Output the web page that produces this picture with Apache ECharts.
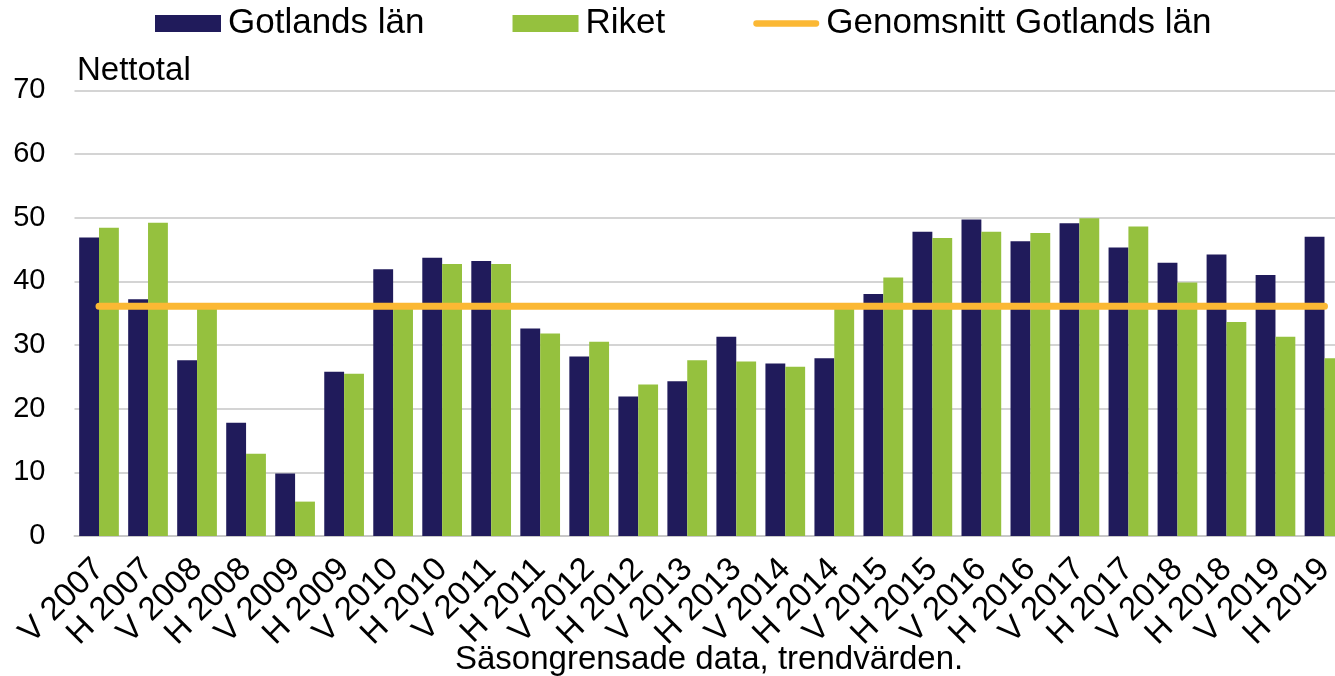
<!DOCTYPE html>
<html>
  <head>
    <meta charset="utf-8">
    <title>Nettotal</title>
    <style>
        *{
            padding: 0;
            margin: 0;
        }
        body{
            background-color: #ffffff;
            overflow: hidden;
        }
        #chart{
            width: 1349px;
            height: 676px;
        }
    </style>
  </head>
  <body>
    <div id="chart"></div>
    <script type="text/javascript" src="https://cdn.jsdelivr.net/npm/echarts@6/dist/echarts.min.js"></script>
    <script type="text/javascript">
        // kategorier (halvår)
        var categories = ['V 2007','H 2007','V 2008','H 2008','V 2009','H 2009','V 2010','H 2010',
            'V 2011','H 2011','V 2012','H 2012','V 2013','H 2013','V 2014','H 2014',
            'V 2015','H 2015','V 2016','H 2016','V 2017','H 2017','V 2018','H 2018','V 2019','H 2019'];
        var gotland = [46.9, 37.2, 27.6, 17.8, 9.8, 25.8, 41.9, 43.7,
            43.2, 32.6, 28.2, 21.9, 24.3, 31.3, 27.1, 27.9,
            38.0, 47.8, 49.7, 46.3, 49.1, 45.3, 42.9, 44.2, 41.0, 47.0];
        var riket = [48.4, 49.2, 36.0, 12.9, 5.4, 25.5, 35.9, 42.7,
            42.7, 31.8, 30.5, 23.8, 27.6, 27.4, 26.6, 36.0,
            40.6, 46.8, 47.8, 47.6, 49.9, 48.6, 39.8, 33.6, 31.3, 27.9];
        var snitt = [36.1, 36.1, 36.1, 36.1, 36.1, 36.1, 36.1, 36.1,
            36.1, 36.1, 36.1, 36.1, 36.1, 36.1, 36.1, 36.1,
            36.1, 36.1, 36.1, 36.1, 36.1, 36.1, 36.1, 36.1, 36.1, 36.1];
        var yTicks = [0, 10, 20, 30, 40, 50, 60, 70];

        var font = '"Liberation Sans", Arial, sans-serif';
        var myChart = echarts.init(document.getElementById('chart'));
        var option = {
            animation: false,
            textStyle: { fontFamily: font },
            legend: {
                top: 1,
                left: 150,
                itemWidth: 66,
                itemHeight: 17,
                itemGap: 88,
                textStyle: { fontSize: 35, color: '#000000', fontFamily: font, padding: [0, 0, 0, 2] },
                data: [
                    { name: 'Gotlands län', icon: 'rect' },
                    { name: 'Riket', icon: 'rect' },
                    { name: 'Genomsnitt Gotlands län', icon: 'path://M3.5,0 H69.5 A3.5,3.5 0 0 1 69.5,7 H3.5 A3.5,3.5 0 0 1 3.5,0 Z' }
                ]
            },
            grid: {
                left: 74.5,
                right: 0,
                top: 90.3,
                bottom: 140
            },
            graphic: [
                { type: 'text', left: 77, top: 54, style: { text: 'Nettotal', font: '33px ' + font, fill: '#000000' } },
                { type: 'text', left: 455, top: 643, style: { text: 'Säsongrensade data, trendvärden.', font: '33px ' + font, fill: '#000000' } }
            ],
            xAxis: {
                type: 'category',
                data: categories,
                axisTick: { show: false },
                axisLine: { lineStyle: { color: '#c8c8c8', width: 2 } },
                axisLabel: {
                    interval: 0,
                    rotate: 45,
                    margin: 28,
                    fontSize: 33,
                    color: '#000000',
                    fontFamily: font
                }
            },
            yAxis: {
                type: 'value',
                min: yTicks[0],
                max: yTicks[yTicks.length - 1],
                interval: 10,
                axisLine: { show: false },
                axisTick: { show: false },
                axisLabel: { fontSize: 29, color: '#000000', margin: 29, fontFamily: font },
                splitLine: { lineStyle: { color: '#d4d4d4', width: 2 } }
            },
            series: [
                {
                    name: 'Gotlands län',
                    type: 'bar',
                    data: gotland,
                    barGap: '0%',
                    barCategoryGap: '19%',
                    itemStyle: { color: '#201b5b' }
                },
                {
                    name: 'Riket',
                    type: 'bar',
                    data: riket,
                    itemStyle: { color: '#95c13e' }
                },
                {
                    name: 'Genomsnitt Gotlands län',
                    type: 'line',
                    data: snitt,
                    symbol: 'none',
                    z: 5,
                    itemStyle: { color: '#fbb834' },
                    lineStyle: { color: '#fbb834', width: 7, cap: 'round' }
                }
            ]
        };
        myChart.setOption(option);
    </script>
  </body>
</html>
